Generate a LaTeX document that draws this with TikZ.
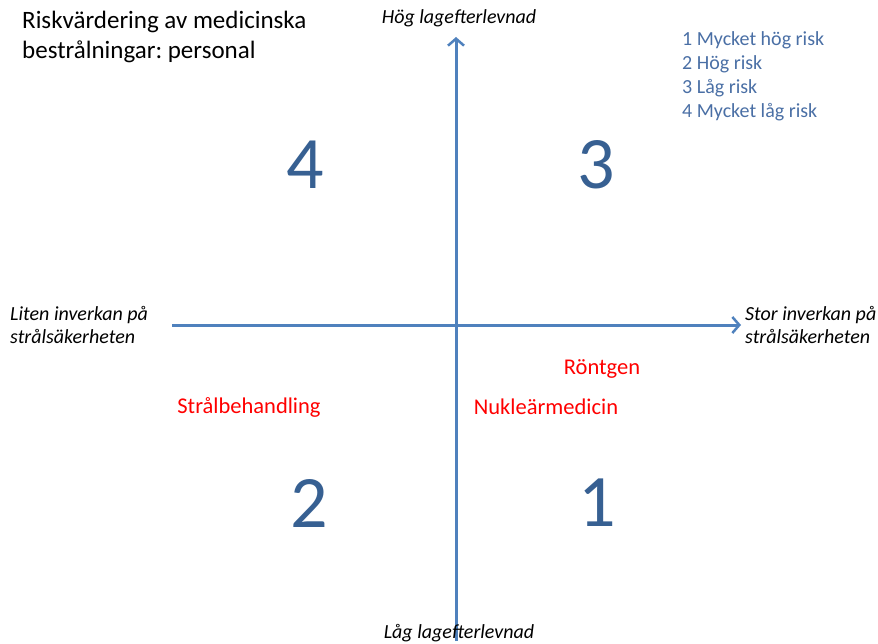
\documentclass[tikz,border=0pt]{standalone}
\usepackage{fontspec}
\setmainfont{Carlito}
\usepackage{xcolor}
\usetikzlibrary{arrows.meta}
\definecolor{axisblue}{HTML}{4F81BD}
\definecolor{numblue}{HTML}{376092}
\definecolor{legblue}{HTML}{4A6FA5}
\frenchspacing

\tikzset{
  axis/.style={line width=3pt,draw=axisblue,-{Straight Barb[length=7pt,width=16pt,line width=2.5pt]}},
  axislabel/.style={font=\fontsize{20}{23.5}\selectfont\itshape,align=left,inner sep=0pt},
  bignum/.style={text=numblue,font=\fontsize{74}{80}\selectfont,inner sep=0pt},
  method/.style={text=red,font=\fontsize{22.5}{26}\selectfont,inner sep=0pt},
}

\begin{document}
\begin{tikzpicture}[x=1pt,y=-1pt]
            \useasboundingbox (0,0) rectangle (878,644);
            % axes
            \coordinate (bottom) at (456,641);
            \coordinate (top) at (456,37);
            \coordinate (left) at (172,325);
            \coordinate (right) at (741,325);
            \draw[axis] (bottom)--(top);
            \draw[axis] (left)--(right);
            % axis texts
            \node[axislabel] (high) at (459,18){Hög lagefterlevnad};
            \node[axislabel] (low) at (459,633){Låg lagefterlevnad};
            \node[axislabel,anchor=west] (small) at (10,325){Liten inverkan på\\strålsäkerheten};
            \node[axislabel,anchor=west] (large) at (745,325){Stor inverkan på\\strålsäkerheten};
            % title and legend
            \node[anchor=west,align=left,inner sep=0pt,font=\fontsize{25}{30}\selectfont] (title) at (22,37){Riskvärdering av medicinska\\bestrålningar: personal};
            \node[anchor=north west,align=left,inner sep=0pt,text=legblue,font=\fontsize{20}{24}\selectfont] (legend) at (682,31){1 Mycket hög risk\\2 Hög risk\\3 Låg risk\\4 Mycket låg risk};
            % quadrants
            \node[bignum] (q4) at (305,165){4};
            \node[bignum] (q3) at (596,165){3};
            \node[bignum] (q2) at (309,503){2};
            \node[bignum] (q1) at (597,503){1};
            \node[method] (rad) at (249,407){Strålbehandling};
            \node[method] (nuk) at (546,407){Nukleärmedicin};
            \node[method] (xray) at (602,369){Röntgen};
        \end{tikzpicture}
\end{document}
